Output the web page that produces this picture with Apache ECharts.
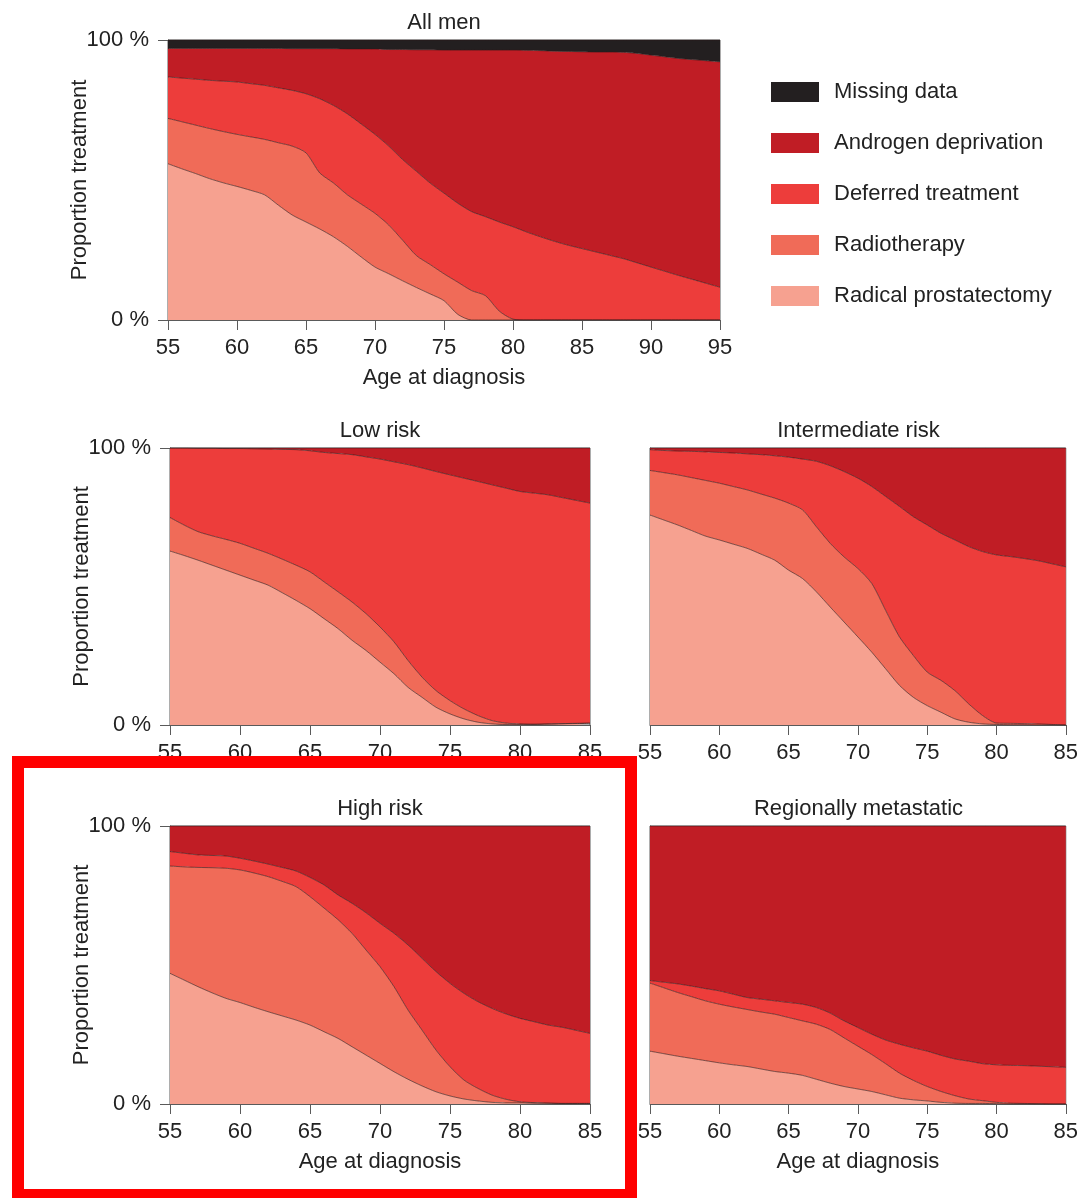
<!DOCTYPE html>
<html>
<head>
<meta charset="utf-8">
<script src="https://cdn.jsdelivr.net/npm/echarts@6/dist/echarts.min.js"></script>
<style>
  html, body { margin: 0; padding: 0; background: #fff; }
  #main { width: 1081px; height: 1198px; }
</style>
</head>
<body>
<div id="main"></div>
<script>
// 年龄
var agesAll = [55,56,57,58,59,60,61,62,63,64,65,66,67,68,69,70,71,72,73,74,75,76,77,78,79,80,81,82,83,84,85,86,87,88,89,90,91,92,93,94,95];
var agesRisk = [55,56,57,58,59,60,61,62,63,64,65,66,67,68,69,70,71,72,73,74,75,76,77,78,79,80,81,82,83,84,85];

var names = ['Missing data', 'Androgen deprivation', 'Deferred treatment', 'Radiotherapy', 'Radical prostatectomy'];
var yTicks = [0, 100];

// All men (share of each treatment, %)
var allRP = [55.8,54.0,52.3,50.5,49.0,47.7,46.3,44.7,41.0,37.5,35.0,32.5,29.7,26.3,22.5,18.9,16.5,14.0,11.6,9.3,6.9,2.0,0,0,0,0,0,0,0,0,0,0,0,0,0,0,0,0,0,0,0];
var allRT = [16.2,16.8,17.3,17.9,18.3,18.6,19.1,19.8,22.3,24.6,24.7,20.0,19.2,18.4,18.9,19.2,17.4,14.5,11.4,10.5,9.6,11.5,10.5,8.7,3.2,0.3,0,0,0,0,0,0,0,0,0,0,0,0,0,0,0];
var allDT = [14.8,15.6,16.4,17.2,18.0,18.7,19.0,19.3,19.6,19.9,21.1,26.5,27.7,28.9,28.6,28.2,28.2,28.8,30.1,29.1,28.8,28.2,28.2,28.2,31.8,33.0,31.4,29.7,28.1,26.7,25.5,24.3,23.1,21.9,20.4,18.9,17.4,15.9,14.5,13.1,11.7];
var allAD = [10.2,10.6,11.0,11.4,11.7,12.0,12.6,13.2,14.1,14.9,16.1,17.9,20.3,23.2,26.8,30.5,34.5,39.3,43.4,47.6,51.1,54.7,57.7,59.5,61.4,63.1,64.9,66.5,67.9,69.2,70.3,71.4,72.6,73.7,74.8,75.7,76.6,77.5,78.5,79.5,80.5];
var allMD = [3.0,3.0,3.0,3.0,3.0,3.0,3.0,3.0,3.0,3.1,3.1,3.1,3.1,3.2,3.2,3.2,3.4,3.4,3.5,3.5,3.6,3.6,3.6,3.6,3.6,3.6,3.7,3.8,4.0,4.1,4.2,4.3,4.3,4.4,4.8,5.4,6.0,6.6,7.0,7.4,7.8];

// Low risk
var lowRP = [62.8,61.2,59.5,57.7,55.9,54.1,52.3,50.5,47.8,45.0,42.0,38.4,34.8,30.6,26.9,22.7,18.5,13.6,10.0,6.4,4.0,2.2,1.0,0.4,0.2,0.2,0.2,0.3,0.4,0.5,0.6];
var lowRT = [12.1,11.0,10.3,10.6,11.1,11.5,11.5,11.5,12.1,12.7,13.3,13.3,13.3,13.8,13.3,12.7,11.5,9.7,7.3,6.0,4.8,3.6,2.4,1.2,0.5,0.2,0.1,0.1,0.1,0.1,0.1];
var lowDT = [25.1,27.8,30.1,31.6,32.8,34.2,35.9,37.6,39.6,41.7,43.7,46.7,49.9,53.2,56.6,60.6,65.0,70.7,75.5,79.1,81.5,83.3,84.5,85.1,84.8,83.9,83.4,82.7,81.6,80.5,79.4];
var lowAD = [0,0,0.1,0.1,0.2,0.2,0.3,0.4,0.5,0.6,1.0,1.6,2.0,2.4,3.2,4.0,5.0,6.0,7.2,8.5,9.7,10.9,12.1,13.3,14.5,15.7,16.3,16.9,17.9,18.9,19.9];

// Intermediate risk
var intRP = [75.8,74.0,72.2,70.2,68.2,66.8,65.3,63.8,61.7,59.5,55.9,52.9,48.1,42.6,37.2,31.8,26.3,20.3,14.3,10.0,7.0,4.6,2.2,1.0,0.4,0.2,0.1,0.1,0,0,0];
var intRT = [16.1,17.1,18.1,19.1,20.1,20.5,20.8,21.1,21.7,22.4,24.2,24.8,23.5,23.0,23.5,24.7,24.8,21.1,17.5,15.1,12.1,11.5,10.2,6.6,3.0,0.5,0.5,0.4,0.4,0.2,0];
var intDT = [7.5,8.0,8.6,9.5,10.3,11.1,12.1,13.0,14.2,15.3,16.6,18.3,23.6,28.0,30.8,32.6,35.0,41.1,47.1,50.1,53.1,53.1,54.4,56.8,59.2,60.7,60.2,59.6,58.9,58.0,57.1];
var intAD = [0.6,0.9,1.1,1.2,1.4,1.6,1.8,2.1,2.4,2.8,3.3,4.0,4.8,6.4,8.5,10.9,13.9,17.5,21.1,24.8,27.8,30.8,33.2,35.6,37.4,38.6,39.2,39.9,40.7,41.8,42.9];

// High risk
var highRP = [47.0,44.6,42.2,40.0,38.0,36.5,34.8,33.2,31.7,30.2,28.4,26.0,23.6,20.6,17.6,14.6,11.6,8.9,6.5,4.4,2.9,1.8,1.1,0.6,0.4,0.4,0.3,0.3,0.2,0.2,0.2];
var highRT = [38.6,40.7,42.9,45.0,46.8,47.7,48.3,48.6,48.4,48.0,46.2,44.5,42.7,40.8,37.8,34.8,30.6,24.9,20.1,15.0,10.5,6.8,4.5,2.6,1.3,0.4,0.2,0,0,0,0];
var highDT = [5.2,4.9,4.5,4.4,4.4,4.2,4.3,4.5,5.0,5.6,6.9,8.3,8.9,10.8,13.4,15.6,19.2,23.4,25.8,28.2,30.0,31.2,31.2,31.2,30.7,30.0,29.1,28.1,27.4,26.3,25.2];
var highAD = [9.2,9.8,10.4,10.6,10.8,11.6,12.6,13.7,14.9,16.2,18.5,21.2,24.8,27.8,31.2,35.0,38.6,42.8,47.6,52.4,56.6,60.2,63.2,65.6,67.6,69.2,70.4,71.6,72.4,73.5,74.6];

// Regionally metastatic
var regRP = [19.0,18.1,17.2,16.4,15.6,14.8,14.1,13.5,12.6,11.7,11.1,10.3,8.9,7.5,6.3,5.4,4.5,3.3,2.1,1.5,1.1,0.6,0.3,0.2,0.2,0.1,0,0,0,0,0];
var regRT = [24.5,23.7,22.9,22.2,21.5,21.1,20.8,20.5,20.5,20.6,20.0,19.6,19.8,19.3,17.5,15.4,13.3,11.2,9.0,7.0,5.2,3.9,2.7,1.6,1.0,0.5,0.3,0.2,0.1,0,0];
var regDT = [0.9,2.0,3.1,3.8,4.4,4.8,4.6,4.3,4.6,4.8,5.4,6.0,6.0,5.9,6.1,6.7,7.3,8.5,10.4,11.7,12.7,13.0,13.2,13.6,13.3,13.5,13.6,13.6,13.5,13.4,13.2];
var regAD = [55.6,56.2,56.8,57.6,58.5,59.3,60.5,61.7,62.3,62.9,63.5,64.1,65.3,67.3,70.1,72.5,74.9,77.0,78.5,79.8,81.0,82.5,83.8,84.6,85.5,85.9,86.1,86.2,86.4,86.6,86.8];

var colors = {
  'Missing data': '#231f20',
  'Androgen deprivation': '#c01d25',
  'Deferred treatment': '#ed3d3b',
  'Radiotherapy': '#f06b58',
  'Radical prostatectomy': '#f6a190'
};

var textColor = '#222';
var fontFamily = 'Liberation Sans, Arial, sans-serif';
var fs = 22;

var panels = [
  { title: 'All men', ages: agesAll, left: 168, top: 40, width: 552, height: 280, yLabels: true, xName: true,
    layers: [allRP, allRT, allDT, allAD, allMD] },
  { title: 'Low risk', ages: agesRisk, left: 170, top: 448, width: 420, height: 277, yLabels: true, xName: false,
    layers: [lowRP, lowRT, lowDT, lowAD] },
  { title: 'Intermediate risk', ages: agesRisk, left: 650, top: 448, width: 417, height: 277, yLabels: false, xName: false,
    layers: [intRP, intRT, intDT, intAD] },
  { title: 'High risk', ages: agesRisk, left: 170, top: 826, width: 420, height: 278, yLabels: true, xName: true,
    layers: [highRP, highRT, highDT, highAD] },
  { title: 'Regionally metastatic', ages: agesRisk, left: 650, top: 826, width: 417, height: 278, yLabels: false, xName: true,
    layers: [regRP, regRT, regDT, regAD] }
];

// bottom-up stacking order
var stackOrder = ['Radical prostatectomy', 'Radiotherapy', 'Deferred treatment', 'Androgen deprivation', 'Missing data'];

var grid = [], xAxis = [], yAxis = [], series = [], title = [];

panels.forEach(function (p, i) {
  grid.push({
    left: p.left, top: p.top, width: p.width, height: p.height,
    show: true, borderColor: '#5a5a5a', borderWidth: 1, backgroundColor: 'transparent'
  });
  title.push({
    text: p.title,
    left: p.left + p.width / 2 - 5,
    top: p.top - 33,
    textAlign: 'center',
    textStyle: { fontSize: fs, fontWeight: 'normal', color: textColor, fontFamily: fontFamily }
  });
  xAxis.push({
    type: 'category',
    gridIndex: i,
    data: p.ages,
    boundaryGap: false,
    name: p.xName ? 'Age at diagnosis' : '',
    nameLocation: 'middle',
    nameGap: 47,
    nameTextStyle: { fontSize: fs, color: textColor, fontFamily: fontFamily },
    axisLine: { show: true, lineStyle: { color: '#5a5a5a', width: 1 } },
    axisTick: { show: true, interval: 4, length: 10, lineStyle: { color: '#5a5a5a' } },
    axisLabel: { interval: 4, fontSize: fs, color: textColor, margin: 17, fontFamily: fontFamily },
    splitLine: { show: false }
  });
  yAxis.push({
    type: 'value',
    gridIndex: i,
    min: yTicks[0], max: yTicks[1], interval: 100,
    name: p.yLabels ? 'Proportion treatment' : '',
    nameLocation: 'middle',
    nameGap: 77,
    nameMoveOverlap: false,
    nameTextStyle: { fontSize: fs, color: textColor, fontFamily: fontFamily },
    axisLine: { show: true, lineStyle: { color: '#5a5a5a', width: 1 } },
    axisTick: { show: p.yLabels, length: 10, lineStyle: { color: '#5a5a5a' } },
    axisLabel: { show: p.yLabels, fontSize: fs, color: textColor, margin: 19, fontFamily: fontFamily,
      formatter: '{value} %' },
    splitLine: { show: false }
  });
  p.layers.forEach(function (vals, k) {
    var nm = stackOrder[k];
    series.push({
      name: nm,
      type: 'line',
      xAxisIndex: i,
      yAxisIndex: i,
      stack: 'panel' + i,
      data: vals,
      symbol: 'none',
      smooth: 0.25,
      silent: true,
      lineStyle: { width: 0.8, color: 'rgba(45,25,25,0.75)' },
      areaStyle: { color: colors[nm], opacity: 1 },
      itemStyle: { color: colors[nm] },
      emphasis: { disabled: true }
    });
  });
});

var chart = echarts.init(document.getElementById('main'), null, { renderer: 'canvas' });
var option = {
  animation: false,
  backgroundColor: '#fff',
  title: title,
  legend: {
    data: names,
    orient: 'vertical',
    left: 771,
    top: 81,
    padding: 0,
    itemWidth: 48,
    itemHeight: 20,
    itemGap: 29,
    icon: 'rect',
    selectedMode: false,
    textStyle: { fontSize: fs, color: textColor, lineHeight: 20, padding: [0, 0, 0, 10], fontFamily: fontFamily }
  },
  grid: grid,
  xAxis: xAxis,
  yAxis: yAxis,
  series: series,
  graphic: [{
    type: 'rect',
    shape: { x: 18, y: 762, width: 613, height: 433 },
    style: { fill: 'none', stroke: '#ff0000', lineWidth: 12 },
    z: 100
  }]
};
chart.setOption(option);

window.addEventListener('resize', function () {
  chart.resize();
});
</script>
</body>
</html>
